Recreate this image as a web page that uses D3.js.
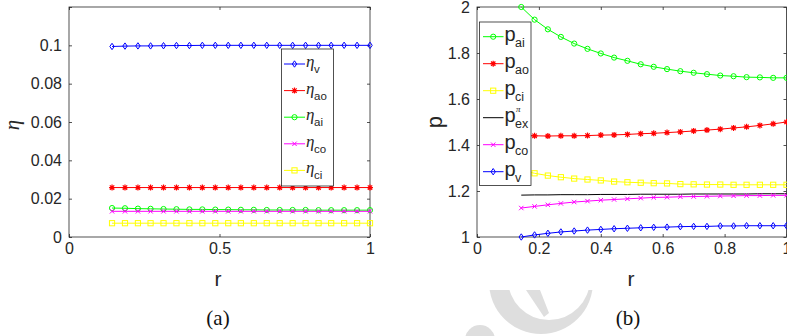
<!DOCTYPE html>
<html>
<head>
<meta charset="utf-8">
<script src="https://cdn.jsdelivr.net/npm/d3@7"></script>
<style>
  body { margin: 0; background: #fff; }
  svg { display: block; }
</style>
</head>
<body>
<div id="chart-area"></div>
<script>
// x values shared by both panels
const r = [0.143, 0.186, 0.229, 0.271, 0.314, 0.357, 0.4, 0.443, 0.486, 0.529, 0.571,
  0.614, 0.657, 0.7, 0.743, 0.786, 0.829, 0.871, 0.914, 0.957, 1];

// panel (a)
const etaV = [0.0994, 0.0996, 0.0997, 0.0997, 0.0998, 0.0999, 0.0999, 0.1, 0.1, 0.1, 0.1,
  0.1, 0.1, 0.1, 0.1, 0.1, 0.1, 0.1, 0.1, 0.1, 0.1];
const etaAo = [0.0258, 0.0258, 0.0258, 0.0258, 0.0258, 0.0258, 0.0258, 0.0258, 0.0258, 0.0258, 0.0258,
  0.0258, 0.0258, 0.0258, 0.0258, 0.0258, 0.0258, 0.0258, 0.0258, 0.0258, 0.0258];
const etaAi = [0.0151, 0.015, 0.0148, 0.0147, 0.0146, 0.0145, 0.0144, 0.0144, 0.0143, 0.0143, 0.0142,
  0.0142, 0.0141, 0.0141, 0.0141, 0.0141, 0.014, 0.014, 0.014, 0.014, 0.014];
const etaCo = [0.0134, 0.0134, 0.0134, 0.0134, 0.0134, 0.0134, 0.0134, 0.0134, 0.0134, 0.0134, 0.0134,
  0.0134, 0.0134, 0.0134, 0.0134, 0.0134, 0.0134, 0.0134, 0.0134, 0.0134, 0.0134];
const etaCi = [0.0072, 0.0072, 0.0072, 0.0072, 0.0072, 0.0072, 0.0072, 0.0072, 0.0072, 0.0072, 0.0072,
  0.0072, 0.0072, 0.0072, 0.0072, 0.0072, 0.0072, 0.0072, 0.0072, 0.0072, 0.0072];

// panel (b)
const pAi = [2.0, 1.945, 1.903, 1.87, 1.841, 1.818, 1.798, 1.78, 1.766, 1.751, 1.74,
  1.73, 1.721, 1.714, 1.708, 1.702, 1.699, 1.695, 1.694, 1.692, 1.692];
const pAo = [1.442, 1.44, 1.439, 1.44, 1.44, 1.441, 1.443, 1.444, 1.446, 1.449, 1.451,
  1.454, 1.457, 1.461, 1.465, 1.469, 1.474, 1.479, 1.485, 1.492, 1.5];
const pCi = [1.29, 1.277, 1.267, 1.26, 1.254, 1.25, 1.246, 1.241, 1.238, 1.236, 1.234,
  1.233, 1.23, 1.229, 1.228, 1.228, 1.227, 1.227, 1.227, 1.227, 1.227];
const pEx = [1.182, 1.183, 1.183, 1.184, 1.184, 1.184, 1.185, 1.185, 1.185, 1.186, 1.186,
  1.186, 1.186, 1.187, 1.187, 1.187, 1.187, 1.187, 1.188, 1.188, 1.188];
const pCo = [1.126, 1.133, 1.14, 1.146, 1.152, 1.156, 1.16, 1.163, 1.166, 1.169, 1.172,
  1.173, 1.175, 1.176, 1.177, 1.178, 1.179, 1.18, 1.18, 1.181, 1.181];
const pV = [1.0, 1.009, 1.016, 1.022, 1.026, 1.03, 1.033, 1.036, 1.038, 1.04, 1.042,
  1.043, 1.045, 1.046, 1.046, 1.048, 1.048, 1.049, 1.049, 1.049, 1.049];

// ticks
const xTicksA = [0, 0.5, 1];
const xLabelsA = ["0", "0.5", "1"];
const yTicksA = [0, 0.02, 0.04, 0.06, 0.08, 0.1, 0.12];
const yLabelsA = ["0", "0.02", "0.04", "0.06", "0.08", "0.1", ""];
const xTicksB = [0, 0.2, 0.4, 0.6, 0.8, 1];
const xLabelsB = ["0", "0.2", "0.4", "0.6", "0.8", "1"];
const yTicksB = [1, 1.2, 1.4, 1.6, 1.8, 2];
const yLabelsB = ["1", "1.2", "1.4", "1.6", "1.8", "2"];

const seriesA = [
  { sub: "v", values: etaV, color: "#0000ff", marker: "diamond" },
  { sub: "ao", values: etaAo, color: "#ff0000", marker: "star" },
  { sub: "ai", values: etaAi, color: "#00ff00", marker: "circle" },
  { sub: "co", values: etaCo, color: "#ff00ff", marker: "x" },
  { sub: "ci", values: etaCi, color: "#ffff00", marker: "square" }
];
const seriesB = [
  { sub: "ai", values: pAi, color: "#00ff00", marker: "circle" },
  { sub: "ao", values: pAo, color: "#ff0000", marker: "star" },
  { sub: "ci", values: pCi, color: "#ffff00", marker: "square" },
  { sub: "ex", sup: "\u03c0", values: pEx, color: "#000000", marker: null },
  { sub: "co", values: pCo, color: "#ff00ff", marker: "x" },
  { sub: "v", values: pV, color: "#0000ff", marker: "diamond" }
];

const axisColor = "#262626";
const sans = "'Liberation Sans', Arial, sans-serif";
const serif = "'Liberation Serif', 'DejaVu Serif', serif";

const svg = d3
  .select("#chart-area")
  .append("svg")
  .attr("width", 787)
  .attr("height", 336);

// faint watermark in the lower part
svg.append("clipPath").attr("id", "wmclip")
  .append("rect").attr("x", 440).attr("y", 290).attr("width", 200).attr("height", 46);
const wm = svg.append("g").attr("fill", "#dedede").attr("clip-path", "url(#wmclip)");
wm.append("circle").attr("cx", 541).attr("cy", 282).attr("r", 52);
wm.append("circle").attr("cx", 549).attr("cy", 279).attr("r", 41).attr("fill", "#fff");
wm.append("path").attr("d", "M526,290 L540,290 L549,313 L544,317 Z");
wm.append("circle").attr("cx", 480).attr("cy", 340).attr("r", 15);

function marker(g, type, x, y, color) {
  const s = 2.6;
  if (type === "circle") {
    g.append("circle").attr("cx", x).attr("cy", y).attr("r", s)
      .attr("fill", "none").attr("stroke", color);
  } else if (type === "square") {
    g.append("rect").attr("x", x - s).attr("y", y - s).attr("width", 2 * s).attr("height", 2 * s)
      .attr("fill", "none").attr("stroke", color);
  } else if (type === "diamond") {
    g.append("path")
      .attr("d", `M${x},${y - 3.2}L${x + 2.2},${y}L${x},${y + 3.2}L${x - 2.2},${y}Z`)
      .attr("fill", "none").attr("stroke", color);
  } else if (type === "x") {
    g.append("path")
      .attr("d", `M${x - 2.2},${y - 2.2}L${x + 2.2},${y + 2.2}M${x - 2.2},${y + 2.2}L${x + 2.2},${y - 2.2}`)
      .attr("stroke", color);
  } else if (type === "star") {
    g.append("path")
      .attr("d", `M${x - 3},${y}L${x + 3},${y}M${x},${y - 3}L${x},${y + 3}` +
        `M${x - 2.2},${y - 2.2}L${x + 2.2},${y + 2.2}M${x - 2.2},${y + 2.2}L${x + 2.2},${y - 2.2}`)
      .attr("stroke", color).attr("stroke-width", 1.2);
  }
}

function panel(opts) {
  const { x, y, xTicks, xLabels, yTicks, yLabels, series } = opts;
  const [x0, x1] = x.range();
  const [y0, y1] = y.range(); // y0 bottom, y1 top
  const g = svg.append("g");

  // axes with inward ticks on all four sides
  const styleAxis = (sel) => {
    sel.select(".domain").remove();
    sel.selectAll(".tick line").attr("stroke", axisColor).attr("stroke-width", 0.8);
    sel.selectAll("text").attr("fill", axisColor)
      .attr("font-family", sans).attr("font-size", 16);
  };
  g.append("g").attr("transform", `translate(0,${y0})`)
    .call(d3.axisBottom(x).tickValues(xTicks).tickSize(-3).tickPadding(6)
      .tickFormat((d, i) => xLabels[i]))
    .call(styleAxis);
  g.append("g").attr("transform", `translate(0,${y1})`)
    .call(d3.axisTop(x).tickValues(xTicks).tickSize(-3).tickFormat(""))
    .call(styleAxis);
  g.append("g").attr("transform", `translate(${x0},0)`)
    .call(d3.axisLeft(y).tickValues(yTicks).tickSize(-3).tickPadding(7)
      .tickFormat((d, i) => yLabels[i]))
    .call(styleAxis);
  g.append("g").attr("transform", `translate(${x1},0)`)
    .call(d3.axisRight(y).tickValues(yTicks).tickSize(-3).tickFormat(""))
    .call(styleAxis);

  g.append("rect")
    .attr("x", x0).attr("y", y1).attr("width", x1 - x0).attr("height", y0 - y1)
    .attr("fill", "none").attr("stroke", axisColor).attr("stroke-width", 0.8);

  const line = d3.line().x((d, i) => x(r[i])).y((d) => y(d));
  series.forEach((s) => {
    const sg = g.append("g");
    sg.append("path").attr("d", line(s.values))
      .attr("fill", "none").attr("stroke", s.color).attr("stroke-width", 1);
    if (s.marker) s.values.forEach((v, i) => marker(sg, s.marker, x(r[i]), y(v), s.color));
  });
  return g;
}

// panel (a)
const xA = d3.scaleLinear().domain([0, 1]).range([69, 370]);
const yA = d3.scaleLinear().domain([0, 0.12]).range([237, 7]);
panel({ x: xA, y: yA, xTicks: xTicksA, xLabels: xLabelsA, yTicks: yTicksA, yLabels: yLabelsA, series: seriesA });

// panel (b)
const xB = d3.scaleLinear().domain([0, 1]).range([477, 786.5]);
const yB = d3.scaleLinear().domain([1, 2]).range([237, 7]);
panel({ x: xB, y: yB, xTicks: xTicksB, xLabels: xLabelsB, yTicks: yTicksB, yLabels: yLabelsB, series: seriesB });

// legend (a)
const legA = svg.append("g");
legA.append("rect").attr("x", 281.5).attr("y", 49).attr("width", 52).attr("height", 137)
  .attr("fill", "#fff").attr("stroke", axisColor).attr("stroke-width", 0.8);
seriesA.forEach((s, i) => {
  const cy = 64 + i * 26.6;
  legA.append("line").attr("x1", 284).attr("x2", 305).attr("y1", cy).attr("y2", cy)
    .attr("stroke", s.color);
  marker(legA, s.marker, 294.5, cy, s.color);
  legA.append("text").attr("x", 306).attr("y", cy + 3)
    .attr("font-family", serif).attr("font-style", "italic").attr("font-size", 17)
    .attr("fill", axisColor).text("\u03b7");
  legA.append("text").attr("x", 314).attr("y", cy + 9)
    .attr("font-family", sans).attr("font-size", 11.5)
    .attr("fill", axisColor).text(s.sub);
});

// legend (b)
const legB = svg.append("g");
legB.append("rect").attr("x", 479.5).attr("y", 22).attr("width", 51.5).attr("height", 163.5)
  .attr("fill", "#fff").attr("stroke", axisColor).attr("stroke-width", 0.8);
seriesB.forEach((s, i) => {
  const cy = 36.7 + i * 27;
  legB.append("line").attr("x1", 483).attr("x2", 503.5).attr("y1", cy).attr("y2", cy)
    .attr("stroke", s.color);
  if (s.marker) marker(legB, s.marker, 493.2, cy, s.color);
  legB.append("text").attr("x", 504.5).attr("y", cy + 4.5)
    .attr("font-family", sans).attr("font-size", 20)
    .attr("fill", axisColor).text("p");
  legB.append("text").attr("x", 515).attr("y", cy + 10)
    .attr("font-family", sans).attr("font-size", 12.5)
    .attr("fill", axisColor).text(s.sub);
  if (s.sup) {
    legB.append("text").attr("x", 516).attr("y", cy - 6)
      .attr("font-family", serif).attr("font-style", "italic").attr("font-size", 9)
      .attr("fill", axisColor).text(s.sup);
  }
});

// axis labels
svg.append("text").attr("transform", "translate(19,125) rotate(-90)")
  .attr("text-anchor", "middle")
  .attr("font-family", serif).attr("font-style", "italic").attr("font-size", 21)
  .attr("fill", axisColor).text("\u03b7");
svg.append("text").attr("transform", "translate(442,122) rotate(-90)")
  .attr("text-anchor", "middle")
  .attr("font-family", sans).attr("font-size", 22)
  .attr("fill", axisColor).text("p");
[218, 631].forEach((cx) => {
  svg.append("text").attr("x", cx).attr("y", 286)
    .attr("text-anchor", "middle")
    .attr("font-family", sans).attr("font-size", 21)
    .attr("fill", axisColor).text("r");
});

// captions
svg.append("text").attr("x", 218).attr("y", 325).attr("text-anchor", "middle")
  .attr("font-family", serif).attr("font-size", 21).attr("fill", "#111").text("(a)");
svg.append("text").attr("x", 628).attr("y", 325).attr("text-anchor", "middle")
  .attr("font-family", serif).attr("font-size", 21).attr("fill", "#111").text("(b)");
</script>
</body>
</html>
